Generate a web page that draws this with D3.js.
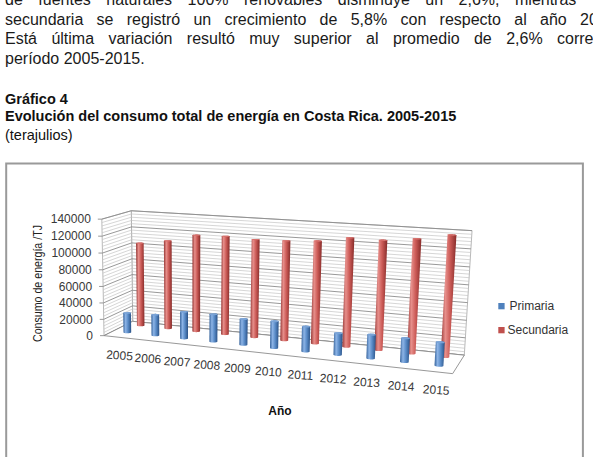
<!DOCTYPE html>
<html><head><meta charset="utf-8">
<script src="https://cdn.jsdelivr.net/npm/d3@7"></script>
<style>html,body{margin:0;padding:0;background:#fff;}svg{display:block;}</style>
</head><body>
<svg id="c" width="593" height="457"></svg>
<script>
// ---------------- data ----------------
const years = ["2005","2006","2007","2008","2009","2010","2011","2012","2013","2014","2015"];
const seriesNames = ["Primaria","Secundaria"];
const primaria   = [24000,25300,32200,32700,30500,31400,28800,24800,26900,26700,26000];
const secundaria = [103300,108500,117700,118700,117200,118100,120300,126300,125900,129900,136400];
const yTicks = [0,20000,40000,60000,80000,100000,120000,140000];
const yMax = 140000;
const yMinorStep = 4000;
const seriesColors = ["#4F81BD","#C0504D"];
const yTitle = "Consumo de energía /TJ";
const xTitle = "Año";
const bodyLines = [
  "de fuentes naturales 100% renovables disminuye un 2,6%, mientras",
  "secundaria se registró un crecimiento de 5,8% con respecto al año 20",
  "Está última variación resultó muy superior al promedio de 2,6% corre",
  "período 2005-2015."
];
const titleLines = ["Gráfico 4","Evolución del consumo total de energía en Costa Rica. 2005-2015","(terajulios)"];

// ---------------- layout ----------------
const svg = d3.select("#c");
const FONT = "'Liberation Sans', Arial, sans-serif";
const bodyJustify = [[8,515],[11,580],[10,557],null];
const bodyBase = [5,24.5,44,63.5];

// body text
bodyLines.forEach((ln,i)=>{
  const t = svg.append("text").attr("x",5).attr("y",bodyBase[i])
    .attr("font-family",FONT).attr("font-size",16).attr("fill","#1a1a1a");
  const j = bodyJustify[i];
  if (j) {
    const words = ln.split(" ");
    t.text(words.slice(0,j[0]).join(" "));
    const wp = t.node().getComputedTextLength();
    const nat = 5 + wp + 16*0.278;
    t.attr("word-spacing", (j[1]-nat)/j[0]);
  }
  t.text(ln);
});
// titles
[[103.5,"bold"],[121,"bold"],[139.5,"normal"]].forEach((s,i)=>{
  svg.append("text").attr("x",5).attr("y",s[0]).attr("font-family",FONT)
    .attr("font-size",14.5).attr("font-weight",s[1]).attr("fill","#111").text(titleLines[i]);
});

// chart frame
svg.append("rect").attr("x",6.2).attr("y",163.5).attr("width",576.7).attr("height",400)
  .attr("fill","#fff").attr("stroke","#9a9a9a").attr("stroke-width",2);

// ---------------- 3D camera fitted to the plot box corners ----------------
const boxTargets = [
  {p:[0,0,0], s:[104,335.5]},
  {p:[0,1,0], s:[101.5,220]},
  {p:[0,1,1], s:[131.7,210]},
  {p:[1,1,1], s:[472,230.5]},
  {p:[1,0,0], s:[453,373]},
  {p:[1,0,1], s:[464,356]}
];
function camera(q){
  const [a,b,W,H,D,dist,ex,ey]=q;
  const ca=Math.cos(a),sa=Math.sin(a),cb=Math.cos(b),sb=Math.sin(b);
  function raw(X,Y,Z){
    const x=X-W/2,y=Y-H/2,z=Z-D/2;
    const xc=x*ca+z*sa+ex;
    const z1=-x*sa+z*ca;
    const yc=y*cb+z1*sb+ey;
    const zc=-y*sb+z1*cb;
    const den=dist+zc;
    const p=dist/den;
    return [xc*p,-yc*p,zc,den];
  }
  return {raw,W,H,D};
}
function evalCam(q){
  if(q[2]<10||q[3]<10||q[4]<5||q[5]<150) return {err:1e12};
  const c=camera(q);
  const pts=boxTargets.map(t=>c.raw(t.p[0]*c.W,t.p[1]*c.H,t.p[2]*c.D));
  if(pts.some(p=>p[3]<50)) return {err:1e12};
  const ox=d3.mean(boxTargets,(t,i)=>t.s[0]-pts[i][0]);
  const oy=d3.mean(boxTargets,(t,i)=>t.s[1]-pts[i][1]);
  const err=d3.sum(boxTargets,(t,i)=>(pts[i][0]+ox-t.s[0])**2+(pts[i][1]+oy-t.s[1])**2);
  return {err,ox,oy,c};
}
function nelderMead(f,x0,steps,iters){
  const n=x0.length;
  let S=[x0.slice()];
  for(let i=0;i<n;i++){const x=x0.slice();x[i]+=steps[i];S.push(x);}
  let V=S.map(f);
  for(let it=0;it<iters;it++){
    const idx=d3.range(n+1).sort((i,j)=>V[i]-V[j]);
    S=idx.map(i=>S[i]);V=idx.map(i=>V[i]);
    const cen=d3.range(n).map(k=>d3.mean(S.slice(0,n),s=>s[k]));
    const w=S[n];
    const xr=cen.map((c,k)=>c+(c-w[k]));const fr=f(xr);
    if(fr<V[0]){
      const xe=cen.map((c,k)=>c+2*(c-w[k]));const fe=f(xe);
      if(fe<fr){S[n]=xe;V[n]=fe;}else{S[n]=xr;V[n]=fr;}
    } else if(fr<V[n-1]){S[n]=xr;V[n]=fr;}
    else{
      const xc=fr<V[n]?cen.map((c,k)=>c+0.5*(xr[k]-c)):cen.map((c,k)=>c+0.5*(w[k]-c));
      const fc=f(xc);
      if(fc<Math.min(fr,V[n])){S[n]=xc;V[n]=fc;}
      else{for(let i=1;i<=n;i++){S[i]=S[i].map((v,k)=>S[0][k]+0.5*(v-S[0][k]));V[i]=f(S[i]);}}
    }
  }
  const bi=d3.minIndex(V);
  return S[bi];
}
let q=[0.47,0.17,387,118,66,1800,0,0];
const steps=[0.05,0.05,20,10,10,300,20,20];
for(let r=0;r<5;r++) q=nelderMead(x=>evalCam(x).err,q,steps,1500);
const fit=evalCam(q);
const cam=fit.c;
const proj=(X,Y,Z)=>{const r=cam.raw(X,Y,Z);return [r[0]+fit.ox,r[1]+fit.oy];};
const depthOf=(X,Y,Z)=>cam.raw(X,Y,Z)[2];
const W=cam.W,H=cam.H,D=cam.D;

// ---------------- scales ----------------
const x=d3.scaleBand().domain(years).range([0,W]);
const y=d3.scaleLinear().domain([0,yMax]).range([0,H]);
const z=d3.scalePoint().domain(seriesNames).range([0.32*D,0.8*D]);
const line=d3.line();
const poly=pts=>"M"+pts.map(p=>p.join(",")).join("L")+"Z";

// walls & floor
const g=svg.append("g");
g.append("path").attr("d",poly([proj(0,0,D),proj(W,0,D),proj(W,H,D),proj(0,H,D)]))
  .attr("fill","#fff").attr("stroke","#a6a6a6").attr("stroke-width",0.8);
g.append("path").attr("d",poly([proj(0,0,0),proj(0,0,D),proj(0,H,D),proj(0,H,0)]))
  .attr("fill","#fff").attr("stroke","#a6a6a6").attr("stroke-width",0.8);
const gridVals=d3.range(0,yMax+1,yMinorStep);
gridVals.forEach(v=>{
  const major=v%20000===0;
  const col=major?"#8c8c8c":"#c4c4c4", sw=major?0.9:0.7;
  g.append("path").attr("d",line([proj(0,y(v),D),proj(W,y(v),D)])).attr("stroke",col).attr("stroke-width",sw).attr("fill","none");
  g.append("path").attr("d",line([proj(0,y(v),0),proj(0,y(v),D)])).attr("stroke",col).attr("stroke-width",sw).attr("fill","none");
});
g.append("path").attr("d",poly([proj(0,0,0),proj(W,0,0),proj(W,0,D),proj(0,0,D)]))
  .attr("fill","#fff").attr("stroke","#8c8c8c").attr("stroke-width",0.9);

// y axis ticks/labels
yTicks.forEach(v=>{
  const p=proj(0,y(v),0);
  g.append("path").attr("d",line([[p[0]-4,p[1]],p])).attr("stroke","#8c8c8c").attr("stroke-width",0.9);
  g.append("text").attr("x",p[0]-11).attr("y",p[1]).attr("dy","0.36em").attr("text-anchor","end")
    .attr("font-family",FONT).attr("font-size",12).attr("fill","#383838").text(v);
});
// x labels
const a0=proj(0,0,0),a1=proj(W,0,0);
const slope=Math.atan2(a1[1]-a0[1],a1[0]-a0[0])*180/Math.PI;
years.forEach(yr=>{
  const p=proj(x(yr)+x.bandwidth()/2,0,0);
  g.append("text").attr("transform",`translate(${p[0]+1.5},${p[1]+18}) rotate(${slope*0.6})`)
    .attr("dy","0.36em").attr("text-anchor","middle")
    .attr("font-family",FONT).attr("font-size",12).attr("fill","#383838").text(yr);
});

// gradients
const defs=svg.append("defs");
const shades=[
  ["#35639c","#8db4e6","#5a8cc8","#2b5286"],
  ["#963634","#e78f8b","#cc5b57","#862b29"]
];
shades.forEach((s,i)=>{
  const lg=defs.append("linearGradient").attr("id","gr"+i).attr("x1",0).attr("x2",1).attr("y1",0).attr("y2",0);
  [[0,s[0]],[0.3,s[1]],[0.6,s[2]],[1,s[3]]].forEach(st=>lg.append("stop").attr("offset",st[0]).attr("stop-color",st[1]));
});
const topColors=["#7aa3d6","#d7716d"];

// bars (cylinders)
const series=[primaria,secundaria];
const bars=[];
series.forEach((vals,si)=>vals.forEach((v,i)=>{
  const X=x(years[i])+x.bandwidth()/2, Z=z(seriesNames[si]);
  bars.push({si,v,X,Z,d:depthOf(X,0,Z)});
}));
bars.sort((a,b)=>b.d-a.d);
const r=x.bandwidth()*0.125;
const ang=d3.range(0,2*Math.PI,Math.PI/24);
const bg=svg.append("g");
bars.forEach(b=>{
  const bot=ang.map(t=>proj(b.X+r*Math.cos(t),0,b.Z+r*Math.sin(t)));
  const top=ang.map(t=>proj(b.X+r*Math.cos(t),y(b.v),b.Z+r*Math.sin(t)));
  const hull=d3.polygonHull(bot.concat(top));
  bg.append("path").attr("d",poly(hull)).attr("fill",`url(#gr${b.si})`);
  bg.append("path").attr("d",poly(top)).attr("fill",topColors[b.si]);
});

// titles
svg.append("text").attr("transform","translate(41.5,283.5) rotate(-90)").attr("text-anchor","middle")
  .attr("font-family",FONT).attr("font-size",12.5).attr("fill","#222")
  .attr("textLength",117).attr("lengthAdjust","spacingAndGlyphs").text(yTitle);
svg.append("text").attr("x",280).attr("y",415).attr("text-anchor","middle")
  .attr("font-family",FONT).attr("font-size",12).attr("font-weight","bold").attr("fill","#111").text(xTitle);

// legend
const lg=svg.append("g");
seriesNames.forEach((nm,i)=>{
  lg.append("rect").attr("x",498.3).attr("y",303+i*24).attr("width",6.3).attr("height",6.3).attr("fill",seriesColors[i]);
  lg.append("text").attr("x",i?507.5:509.5).attr("y",310+i*24).attr("font-family",FONT)
    .attr("font-size",12).attr("fill","#333").text(nm);
});
</script>
</body></html>
